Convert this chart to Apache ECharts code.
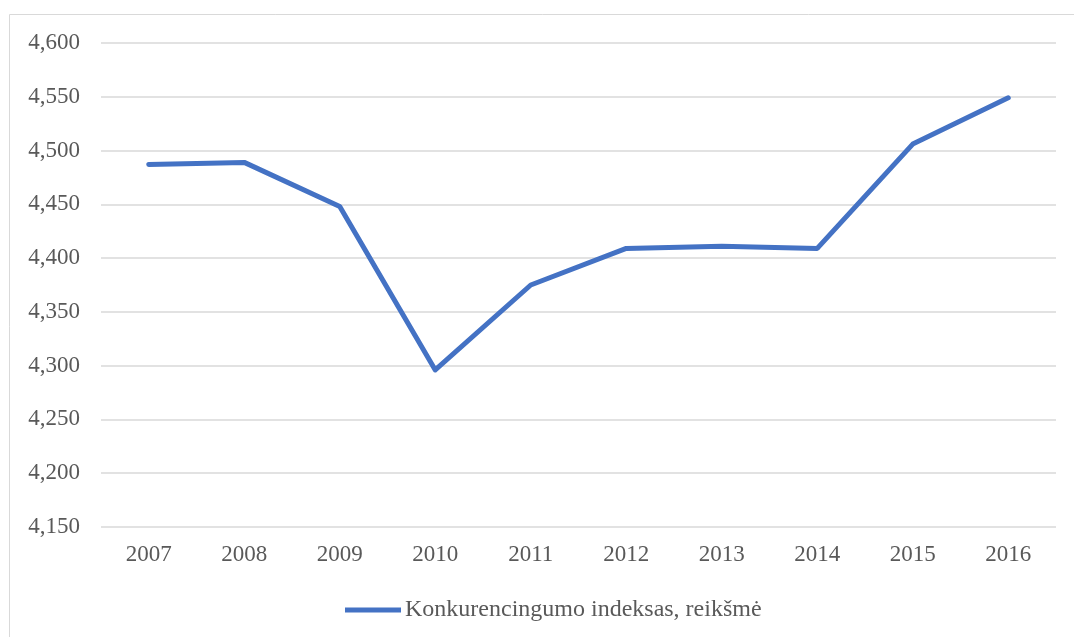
<!DOCTYPE html>
<html><head><meta charset="utf-8">
<script src="https://cdn.jsdelivr.net/npm/echarts@6/dist/echarts.min.js"></script>
<style>html,body{margin:0;padding:0;background:#fff}#c{width:1074px;height:637px}</style>
</head><body><div id="c"></div>
<script>
const categories = ['2007','2008','2009','2010','2011','2012','2013','2014','2015','2016'];
const values = [4.487, 4.489, 4.448, 4.296, 4.375, 4.409, 4.411, 4.409, 4.506, 4.549];
const seriesName = 'Konkurencingumo indeksas, reikšmė';
const chart = echarts.init(document.getElementById('c'));
const font = '"Liberation Serif","Times New Roman",serif';
chart.setOption({
  animation: false,
  graphic: [{type:'rect', shape:{x:9.5,y:14.5,width:1080,height:640}, style:{fill:'none',stroke:'#d9d9d9',lineWidth:1}}],
  grid: {left:101, right:18, top:43, bottom:110},
  legend: {top:593, left:340, itemWidth:56, itemHeight:5, icon:'rect', itemGap:4,
    textStyle:{fontFamily:font, fontSize:24, color:'#595959', padding:[0,0,0,-1]}, data:[seriesName]},
  xAxis: {type:'category', data:categories, boundaryGap:true,
    axisLine:{show:false}, axisTick:{show:false},
    axisLabel:{fontFamily:font, fontSize:23, color:'#595959', margin:16}},
  yAxis: {type:'value', min:4.15, max:4.6, interval:0.05,
    axisLine:{show:false}, axisTick:{show:false},
    splitLine:{lineStyle:{color:'#d9d9d9', width:1.5}},
    axisLabel:{fontFamily:font, fontSize:23, color:'#595959', margin:21,
      formatter: v => v.toFixed(3).replace('.', ',')}},
  series: [{name:seriesName, type:'line', data:values, showSymbol:false, symbol:'none',
    lineStyle:{color:'#4472C4', width:5, cap:'round', join:'round'}, itemStyle:{color:'#4472C4'}}]
});
</script></body></html>
